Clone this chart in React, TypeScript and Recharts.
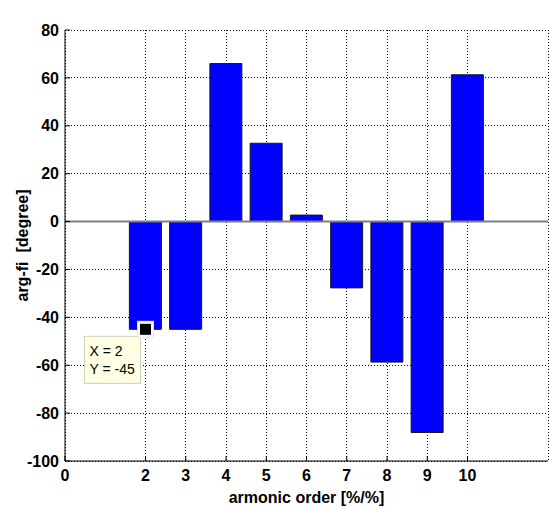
import React from 'react';
import { BarChart, Bar, XAxis, YAxis, CartesianGrid, ReferenceLine, ReferenceDot } from 'recharts';

// harmonic order k and measured phase angle arg-fi in degrees
const harmonics = [2, 3, 4, 5, 6, 7, 8, 9, 10];
const argFi = [-45, -45, 66, 32.7, 2.7, -27.7, -58.7, -88.1, 61.3];

const xTicks = [0, 2, 3, 4, 5, 6, 7, 8, 9, 10];
const yTicks = [-100, -80, -60, -40, -20, 0, 20, 40, 60, 80];

// data tip shown on the chart
const tipX = 2;
const tipY = -45;

const data = harmonics.map((k, i) => ({ k, fi: argFi[i] }));

const FONT = '"Liberation Sans", Arial, Helvetica, sans-serif';
const tickStyle = { fontFamily: FONT, fontSize: 16, fontWeight: 700, fill: '#000' };

const DataTip = (props: any) => {
  const { cx, cy } = props;
  if (cx == null || cy == null) return null;
  return (
    <g>
      <rect x={cx - 61} y={cy + 7} width={56} height={47} fill="#FFFFE3" stroke="#CFCFBE" strokeWidth={1} />
      <text x={cx - 56} y={cy + 27} fontFamily={FONT} fontSize={14} fill="#000">{`X = ${tipX}`}</text>
      <text x={cx - 56} y={cy + 45} fontFamily={FONT} fontSize={14} fill="#000">{`Y = ${tipY}`}</text>
      <rect x={cx - 8} y={cy - 8} width={16} height={16} fill="#FFFFF0" stroke="#E8E8D0" strokeWidth={1} />
      <rect x={cx - 5.5} y={cy - 5.5} width={11} height={11} fill="#000" />
    </g>
  );
};

export default function App() {
  return (
    <div style={{ position: 'absolute', left: 0, top: 0, width: 549, height: 506, background: '#fff' }}>
      <BarChart width={549} height={506} data={data} margin={{ top: 30, right: 1, bottom: 0, left: 0 }}>
        <CartesianGrid stroke="#000" strokeDasharray="1 2" shapeRendering="crispEdges" />
        <XAxis
          dataKey="k"
          type="number"
          domain={[0, 12]}
          ticks={xTicks}
          interval={0}
          allowDataOverflow
          height={45}
          tickSize={-5}
          tickMargin={14}
          tick={tickStyle}
          axisLine={{ stroke: '#000' }}
          tickLine={{ stroke: '#000' }}
          label={{
            content: (p: any) => {
              const vb = p.viewBox;
              return (
                <text x={vb.x + vb.width / 2} y={vb.y + vb.height - 3} textAnchor="middle" fontFamily={FONT} fontSize={16} fontWeight={700} fill="#000">
                  armonic order [%/%]
                </text>
              );
            },
          }}
        />
        <XAxis
          xAxisId="top"
          orientation="top"
          type="number"
          domain={[0, 12]}
          ticks={xTicks}
          interval={0}
          allowDataOverflow
          height={0}
          tickSize={-5}
          tick={false}
          axisLine={{ stroke: '#000' }}
          tickLine={{ stroke: '#000' }}
          label={{
            content: (p: any) => {
              const vb = p.viewBox;
              return (
                <text x={vb.x + vb.width / 2} y={vb.y - 13} textAnchor="middle" fontFamily={FONT} fontSize={16} fontWeight={700} fill="#000">
                  arg-fi(k) characteristic
                </text>
              );
            },
          }}
        />
        <YAxis
          type="number"
          domain={[-100, 80]}
          ticks={yTicks}
          interval={0}
          allowDataOverflow
          width={65}
          tickSize={-5}
          tickMargin={11}
          tick={tickStyle}
          axisLine={{ stroke: '#000' }}
          tickLine={{ stroke: '#000' }}
          label={{
            content: (p: any) => {
              const vb = p.viewBox;
              const x = vb.x + 22;
              const y = vb.y + vb.height / 2;
              return (
                <text x={x} y={y} transform={`rotate(-90, ${x}, ${y})`} textAnchor="middle" dominantBaseline="central" fontFamily={FONT} fontSize={16} fontWeight={700} fill="#000">
                  {'arg-fi\u00A0\u00A0[degree]'}
                </text>
              );
            },
          }}
        />
        <YAxis
          yAxisId="right"
          orientation="right"
          type="number"
          domain={[-100, 80]}
          ticks={yTicks}
          interval={0}
          allowDataOverflow
          width={0}
          tickSize={-5}
          tick={false}
          axisLine={{ stroke: '#000' }}
          tickLine={{ stroke: '#000' }}
        />
        <Bar dataKey="fi" fill="#0000FF" stroke="#1a1a1a" strokeWidth={1} barSize={32} isAnimationActive={false} />
        <ReferenceLine y={0} stroke="#7f7f7f" strokeWidth={2} />
        <ReferenceDot x={tipX} y={tipY} r={6} shape={DataTip} />
      </BarChart>
    </div>
  );
}
